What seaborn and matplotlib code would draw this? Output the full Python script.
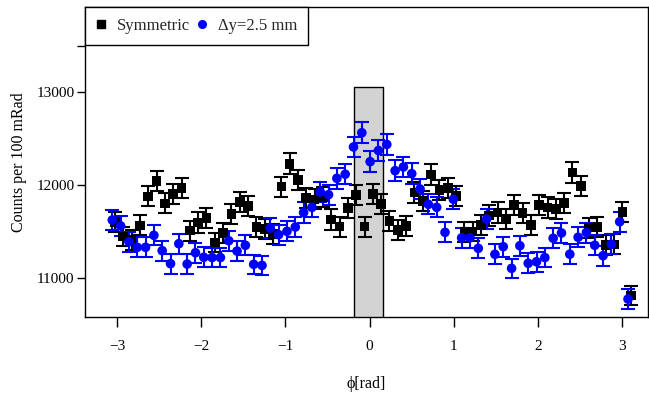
import numpy as np
import pandas as pd
import matplotlib
matplotlib.use("Agg")
import matplotlib.pyplot as plt
import seaborn as sns
from matplotlib.lines import Line2D

# ---- data ----
phi_sym = [-3.024 + 0.0988 * k for k in range(63)]
counts_sym = [11605, 11446, 11409, 11565, 11878, 12045, 11803, 11900, 11971, 11509,
              11597, 11648, 11382, 11487, 11688, 11820, 11777, 11548, 11527, 11471,
              11982, 12229, 12054, 11860, 11846, 11871, 11629, 11552, 11756, 11892,
              11552, 11906, 11796, 11615, 11513, 11562, 11919, 11828, 12113, 11946,
              11965, 11882, 11495, 11500, 11570, 11672, 11704, 11637, 11785, 11702,
              11570, 11785, 11758, 11740, 11806, 12134, 11989, 11543, 11548, 11355,
              11362, 11713, 10812]

phi_dy = [-3.056 + 0.0988 * k for k in range(63)]
counts_dy = [11624, 11561, 11390, 11330, 11330, 11459, 11294, 11154, 11369, 11150,
             11272, 11223, 11220, 11220, 11401, 11290, 11352, 11147, 11136, 11538,
             11466, 11502, 11548, 11704, 11760, 11925, 11896, 12072, 12116, 12409,
             12562, 12251, 12371, 12436, 12154, 12194, 12122, 11957, 11792, 11760,
             11491, 11847, 11432, 11432, 11319, 11634, 11255, 11337, 11104, 11347,
             11158, 11175, 11220, 11427, 11484, 11256, 11438, 11489, 11352, 11240,
             11363, 11605, 10774]

series_names = ["Symmetric", "\u0394y=2.5 mm"]
band_x = [-0.184, 0.156]
band_top = 13054
x_ticks = [-3, -2, -1, 0, 1, 2, 3]
y_ticks = [11000, 12000, 13000, 13500]
y_tick_labels = ["11000", "12000", "13000", ""]

df = pd.DataFrame({
    "phi": list(phi_sym) + list(phi_dy),
    "counts": counts_sym + counts_dy,
    "series": [series_names[0]] * len(counts_sym) + [series_names[1]] * len(counts_dy),
})
df["err"] = np.sqrt(df["counts"])

sns.set_theme(style="ticks")
plt.rcParams["font.family"] = ["Liberation Serif", "DejaVu Serif"]
plt.rcParams["axes.unicode_minus"] = True

fig = plt.figure(figsize=(6.49, 3.96), dpi=100)
ax = fig.add_axes([85 / 649, 1 - 316.7 / 396, (648 - 85) / 649, (316.7 - 7) / 396])

ymin, ymax = 10584, 13914
ax.fill_between(band_x, [ymin - 500] * 2, [band_top] * 2, facecolor="#d3d3d3",
                edgecolor="black", linewidth=1.0, zorder=1)

palette = {series_names[0]: "black", series_names[1]: "#0000ff"}
markers = {series_names[0]: "s", series_names[1]: "o"}
for name in series_names:
    sub = df[df["series"] == name]
    ax.errorbar(sub["phi"], sub["counts"], yerr=sub["err"], fmt="none",
                ecolor=palette[name], elinewidth=1.5, capsize=5, capthick=1.5,
                zorder=2 if name == series_names[0] else 4)
sns.scatterplot(data=df, x="phi", y="counts", hue="series", style="series",
                palette=palette, markers=markers, s=48, linewidth=0,
                legend=False, ax=ax, zorder=5)

ax.set_xlim(-3.380, 3.307)
ax.set_ylim(ymin, ymax)
ax.set_xticks(x_ticks)
ax.set_yticks(y_ticks)
ax.set_yticklabels(y_tick_labels)
ax.tick_params(axis="both", direction="out", width=1, color="black",
               labelsize=11, labelcolor="black")
ax.tick_params(axis="x", length=7, pad=10)
ax.tick_params(axis="y", length=6, pad=1.5)
for s in ax.spines.values():
    s.set_color("black")
    s.set_linewidth(1.0)

ax.set_xlabel("\u03d5[rad]", fontsize=11.5, color="black", labelpad=16)
ax.set_ylabel("Counts per 100 mRad", fontsize=11.5, color="black", labelpad=7)

handles = [
    Line2D([], [], linestyle="none", marker="s", color="black", markersize=6),
    Line2D([], [], linestyle="none", marker="o", color="#0000ff", markersize=5.5),
]
leg = ax.legend(handles, series_names, loc="upper left", ncol=2, frameon=True,
                fancybox=False, framealpha=1, edgecolor="black", borderaxespad=0,
                fontsize=12, handlelength=0.6, handletextpad=0.65,
                columnspacing=0.45, borderpad=0.65)
leg.get_frame().set_linewidth(1.0)
leg.set_zorder(10)

fig.savefig("out.png", dpi=100)
